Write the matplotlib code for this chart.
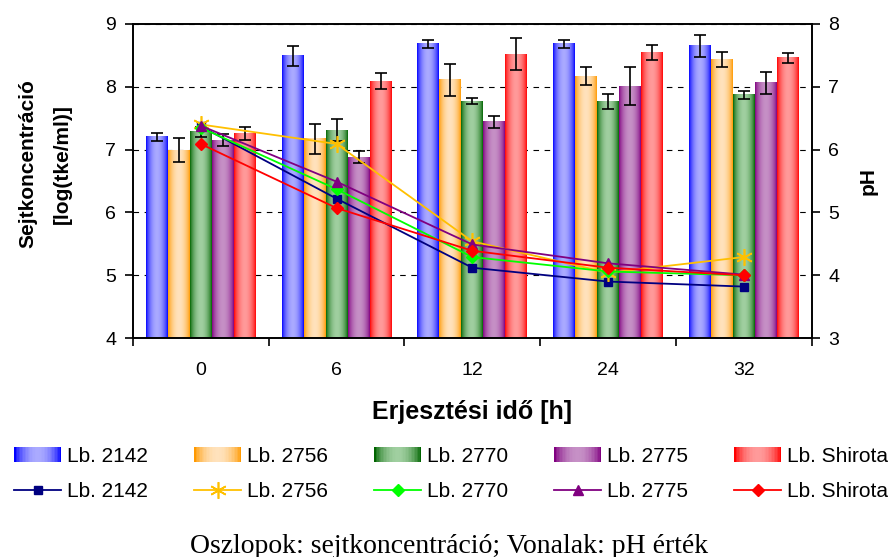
import numpy as np
import matplotlib
matplotlib.use("Agg")
import matplotlib.pyplot as plt
from matplotlib.patches import Patch, Rectangle
from matplotlib.lines import Line2D
from matplotlib.legend_handler import HandlerBase
from matplotlib.colors import to_rgb

# ==========================================
# DATA
# ==========================================
categories = ["0", "6", "12", "24", "32"]
strains = ["Lb. 2142", "Lb. 2756", "Lb. 2770", "Lb. 2775", "Lb. Shirota"]

# bars: cell concentration [log(tke/ml)]
cells_2142 = [7.20, 8.49, 8.68, 8.68, 8.65]
cells_2756 = [6.99, 7.17, 8.11, 8.17, 8.44]
cells_2770 = [7.28, 7.31, 7.77, 7.77, 7.87]
cells_2775 = [7.15, 6.88, 7.44, 8.01, 8.06]
cells_shirota = [7.26, 8.09, 8.52, 8.55, 8.46]

err_2142 = [0.06, 0.16, 0.06, 0.06, 0.18]
err_2756 = [0.19, 0.24, 0.26, 0.14, 0.12]
err_2770 = [0.08, 0.17, 0.05, 0.12, 0.07]
err_2775 = [0.10, 0.10, 0.10, 0.30, 0.17]
err_shirota = [0.10, 0.13, 0.26, 0.12, 0.08]

# lines: pH
ph_2142 = [6.37, 5.22, 4.12, 3.90, 3.82]
ph_2756 = [6.40, 6.09, 4.54, 4.04, 4.29]
ph_2770 = [6.35, 5.37, 4.29, 4.06, 4.00]
ph_2775 = [6.38, 5.49, 4.49, 4.19, 4.01]
ph_shirota = [6.09, 5.07, 4.39, 4.12, 4.00]

cells = [cells_2142, cells_2756, cells_2770, cells_2775, cells_shirota]
errs = [err_2142, err_2756, err_2770, err_2775, err_shirota]
phs = [ph_2142, ph_2756, ph_2770, ph_2775, ph_shirota]

# ==========================================
# STYLE
# ==========================================
plt.rcParams["font.family"] = ["Liberation Sans", "DejaVu Sans"]

# (edge colour, light centre colour) for the gradient bars
BAR_GRAD = [
    ("#0000ff", "#aaaaff"),
    ("#ff9900", "#ffe2bc"),
    ("#006400", "#a0cfa0"),
    ("#800080", "#c690c6"),
    ("#ff0000", "#ff9a9a"),
]
LINE_STYLE = [
    dict(color="#000080", marker="s", ms=6),
    dict(color="#ffc000", marker=(6, 2, 0), ms=12, mew=1.2),
    dict(color="#00ff00", marker="D", ms=6.5),
    dict(color="#800080", marker="^", ms=7.5),
    dict(color="#ff0000", marker="D", ms=6),
]
BAR_W = 0.162


def gradient(edge, light, n=64):
    t = np.linspace(0, 1, n)
    p = np.sin(np.pi * t) ** 0.7
    e = np.array(to_rgb(edge))
    l = np.array(to_rgb(light))
    return e[None, :] + (l - e)[None, :] * p[:, None]


class GradHandle(Patch):
    def __init__(self, grad, **kw):
        super().__init__(**kw)
        self.grad = grad


class GradHandler(HandlerBase):
    def create_artists(self, legend, orig_handle, xdescent, ydescent,
                       width, height, fontsize, trans):
        cols = orig_handle.grad
        n = len(cols)
        arts = []
        for i, c in enumerate(cols):
            r = Rectangle((-xdescent + i * width / n, -ydescent), width / n * 1.1, height,
                          facecolor=c, edgecolor="none", transform=trans)
            arts.append(r)
        return arts


# ==========================================
# PLOT
# ==========================================
fig = plt.figure(figsize=(8.92, 5.57), dpi=100)
ax = fig.add_axes([0.149, 0.393, 0.761, 0.564])
ax2 = ax.twinx()

x = np.arange(len(categories))

for i in range(len(strains)):
    pos = x + (i - 2) * BAR_W
    bars = ax.bar(pos, cells[i], BAR_W, facecolor="none", edgecolor="none", zorder=2)
    g = gradient(*BAR_GRAD[i])[None, :, :]
    for b in bars:
        ax.imshow(g, extent=(b.get_x(), b.get_x() + b.get_width(), 0, b.get_height()),
                  aspect="auto", interpolation="bilinear", zorder=2)
    ax.errorbar(pos, cells[i], yerr=errs[i], fmt="none", ecolor="black",
                elinewidth=1.2, capsize=4.5, capthick=1.2, zorder=3)

for i in range(len(strains)):
    st = LINE_STYLE[i]
    ax2.plot(x, phs[i], color=st["color"], lw=1.3, marker=st["marker"],
             ms=st["ms"], mew=st.get("mew", 1), mfc=st["color"], mec=st["color"])

ax.set_xlim(-0.5, len(categories) - 0.5)
ax.set_ylim(4, 9)
ax2.set_ylim(3, 8)
ax.set_yticks(range(4, 10))
ax2.set_yticks(range(3, 9))

# category ticks on the boundaries, labels in between
ax.set_xticks(np.arange(-0.5, len(categories)), labels=[""] * (len(categories) + 1))
ax.set_xticks(x, labels=categories, minor=True)
ax.tick_params(axis="x", which="minor", length=0, pad=17, labelsize=14)
ax.tick_params(axis="x", which="major", length=6, width=1.2, direction="out")
ax.tick_params(axis="y", length=6, width=1.2, direction="out", labelsize=14, pad=6)
ax2.tick_params(axis="y", length=6, width=1.2, direction="out", labelsize=14, pad=6)

ax.yaxis.grid(True, color="black", linestyle=(0, (5, 5)), linewidth=0.8, zorder=0)
ax.set_axisbelow(True)
for a in (ax, ax2):
    for s in a.spines.values():
        s.set_linewidth(1.2)

ax.set_xlabel("Erjesztési idő [h]", fontsize=18, fontweight="bold", labelpad=15)
ax.set_ylabel("Sejtkoncentráció\n[log(tke/ml)]", fontsize=15, fontweight="bold",
              linespacing=2.0)
ax.yaxis.set_label_coords(-0.09, 0.554)
ax2.set_ylabel("pH", fontsize=15, fontweight="bold", labelpad=14)

# legend: gradient patch + line for every strain, two rows
handles, labels = [], []
for i, name in enumerate(strains):
    handles.append(GradHandle(gradient(*BAR_GRAD[i], n=32)))
    labels.append(name)
    st = LINE_STYLE[i]
    handles.append(Line2D([], [], color=st["color"], lw=1.3, marker=st["marker"],
                          ms=st["ms"], mew=st.get("mew", 1), mfc=st["color"], mec=st["color"]))
    labels.append(name)

fig.legend(handles, labels, ncol=5, loc="center", bbox_to_anchor=(0.506, 0.149),
           frameon=False, fontsize=15, handlelength=2.25, handleheight=0.7,
           handletextpad=0.3, columnspacing=2.2, labelspacing=0.8, numpoints=1,
           borderpad=0, borderaxespad=0,
           handler_map={GradHandle: GradHandler()})

fig.text(0.503, -0.003, "Oszlopok: sejtkoncentráció; Vonalak: pH érték",
         ha="center", va="bottom", fontsize=20, family=["Liberation Serif", "DejaVu Serif"])

fig.savefig("out.png", dpi=100)
